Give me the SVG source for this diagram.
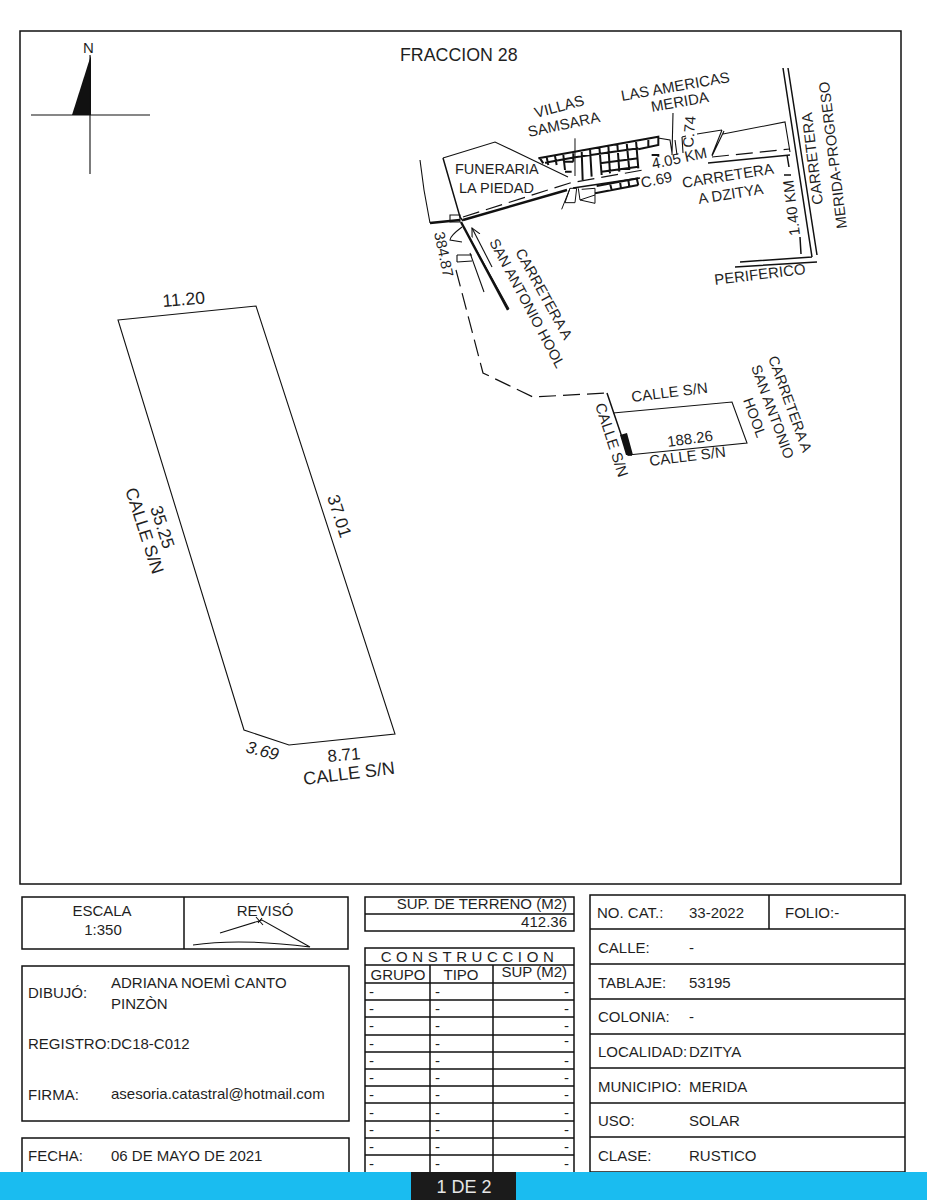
<svg xmlns="http://www.w3.org/2000/svg" width="927" height="1200" viewBox="0 0 927 1200">
<style>
text{font-family:"Liberation Sans",Arial,sans-serif;font-size:15px;fill:#1f1f1f}
.p{font-size:17.500px}
.s{font-size:14.500px}
.l{fill:none;stroke:#111;stroke-width:1.1}
.m{fill:none;stroke:#111;stroke-width:1.5}
.t{fill:none;stroke:#111;stroke-width:2.400}
.d{fill:none;stroke:#111;stroke-width:1.2;stroke-dasharray:17 7}
.c{text-anchor:middle}
.r{text-anchor:end}
</style>
<defs><marker id="open" markerWidth="9" markerHeight="9" refX="8" refY="4" orient="auto"><path d="M0 0L8 4L0 8" fill="none" stroke="#111" stroke-width="1"/></marker></defs>
<rect width="927" height="1200" fill="#fff"/>
<g id="frame"><rect class="m" x="20" y="31" width="881" height="853"/></g>
<text x="400" y="61" style="font-size:17.800px">FRACCION 28</text>
<g id="north">
<path d="M91 55L72 115H91Z" fill="#111"/>
<path class="l" d="M31 115H150M90 55V174"/>
<text x="83" y="53">N</text>
</g>
<g id="parcel">
<path class="l" d="M118 320L256 306L395 734L289 745L244 730Z"/>
<text class="p" transform="translate(163 307) rotate(-5)">11.20</text>
<text class="p" transform="translate(327 497) rotate(72)">37.01</text>
<text class="p" transform="translate(150 508) rotate(72)">35.25</text>
<text class="p" transform="translate(125 490) rotate(72)">CALLE S/N</text>
<text class="p" transform="translate(245 752) rotate(15)" style="font-style:italic;font-size:17px">3.69</text>
<text class="p" transform="translate(328 762) rotate(-5)" style="font-size:17px">8.71</text>
<text class="p" transform="translate(304 785) rotate(-7)" style="font-size:18px">CALLE S/N</text>
</g>
<g id="connectors">
<path class="l" d="M443 158L495 142L568 177M420 160L424 190L430 223M450 215H460V222H450Z"/>
<path class="m" d="M443 158L460 217L463 221"/>
<path class="t" d="M430 223L460 220"/>
<path class="t" d="M463 220L567 190"/>
<path class="d" d="M463 217L570 183L643 170"/>
<path class="m" d="M573 188L640 178"/>
<path class="t" d="M461 222L508 310"/>
<path class="l" d="M470 253L484 292M468 235L509 309M457 255V262M457 255H472M457 262L472 261M462 227Q450 236 450 240L462 242"/>
<path class="l" d="M492 267L472 228" marker-end="url(#open)"/>
<path class="d" d="M456 270L483 373L533 397L607 393"/>
<path class="m" d="M783 68L812 257M788 68L817 255M740 262L812 257M735 267L817 262"/>
<path class="m" d="M787 155L789 167M800 237L801 254M784 175H791"/>
<path class="l" d="M723 134L785 122L790 152M697 134L722 130M722 130L712 155M724 131L712 156M682 137L683 153M682 137L686 136M673 113L672 155M658 138L670 140L672 153M675 140L677 155"/>
<path class="m" d="M708 163L790 155"/>
<path class="d" d="M712 157L790 149"/>
</g>
<g id="grid" transform="translate(520 120) scale(.3333)">
<path fill="none" stroke="#111" stroke-width="6" d="M55 115L415 50V75L355 88M75 128L165 112M165 112L355 85M60 115L70 130M80 112L85 135M105 108L110 135M130 105L135 150M160 100V125M240 130L355 115M245 155L355 140M238 80L245 165M265 75L270 160M292 72L298 155M320 68L328 150M348 62L355 145M385 55V80M210 85L215 170M185 90L188 180M395 105H415V110M230 198L355 175M225 220L355 195M270 190L275 210M300 185L303 205M325 180L328 200M350 175L355 195M135 155H155M135 125H160"/>
<path fill="none" stroke="#111" stroke-width="3" d="M165 55V168M135 248L150 205H170L165 248ZM125 268L150 205M175 205L180 240L225 250M180 240L225 225M185 208L225 205M225 205V250"/>
</g>
<g id="map-labels">
<text x="455" y="174" class="s">FUNERARIA</text>
<text x="459" y="193" class="s">LA PIEDAD</text>
<text transform="translate(536 118) rotate(-15)">VILLAS</text>
<text transform="translate(529 137) rotate(-12)">SAMSARA</text>
<text transform="translate(622 101) rotate(-10)">LAS AMERICAS</text>
<text transform="translate(652 112) rotate(-10)">MERIDA</text>
<text transform="translate(693 148) rotate(-85)">C.74</text>
<text transform="translate(653 169) rotate(-12)">4.05 KM</text>
<text transform="translate(642 188) rotate(-12)">C.69</text>
<text transform="translate(683 188) rotate(-9)">CARRETERA</text>
<text transform="translate(699 204) rotate(-9)">A DZITYA</text>
<text transform="translate(800 235) rotate(-97)">1.40 KM</text>
<text transform="translate(823 204) rotate(-97)">CARRETERA</text>
<text transform="translate(847 228) rotate(-97)" style="font-size:14.800px">MERIDA-PROGRESO</text>
<text transform="translate(715 285) rotate(-7)">PERIFERICO</text>
<text transform="translate(434 233) rotate(78)">384.87</text>
<text class="s" transform="translate(515 252) rotate(61)">CARRETERA A</text>
<text class="s" transform="translate(489 242) rotate(62)">SAN ANTONIO HOOL</text>
</g>
<g id="lot">
<path class="l" d="M613 413L732 402L747 443L628 455"/>
<path class="m" d="M607 393L628 455H632"/>
<path d="M620 435L627 433L633 455H626Z" fill="#111"/>
<text transform="translate(632 402) rotate(-7)">CALLE S/N</text>
<text transform="translate(668 447) rotate(-8)">188.26</text>
<text transform="translate(650 466) rotate(-7)">CALLE S/N</text>
<text transform="translate(595 405) rotate(72)">CALLE S/N</text>
<text class="s" transform="translate(768 358) rotate(70)">CARRETERA A</text>
<text class="s" transform="translate(751 367) rotate(70)">SAN ANTONIO</text>
<text class="s" transform="translate(743 400) rotate(70)">HOOL</text>
</g>
<g id="escala">
<rect class="m" x="22" y="897" width="326" height="52"/>
<path class="m" d="M184 897V949"/>
<text class="c" x="102" y="916">ESCALA</text>
<text class="c" x="103" y="935">1:350</text>
<text class="c" x="265" y="916">REVISÓ</text>
<path class="l" d="M220 933L262 920L310 947M193 945Q240 938 310 947M256 917L263 925M262 918L258 923"/>
</g>
<g id="dibujo">
<rect class="m" x="22" y="966" width="327" height="155"/>
<text x="28" y="998">DIBUJÓ:</text>
<text x="111" y="988">ADRIANA NOEMÌ CANTO</text>
<text x="111" y="1009">PINZÒN</text>
<text x="28" y="1049">REGISTRO:DC18-C012</text>
<text x="28" y="1100">FIRMA:</text>
<text x="111" y="1099">asesoria.catastral@hotmail.com</text>
</g>
<g id="fecha">
<path class="m" d="M22 1172V1138H349V1172"/>
<text x="28" y="1161">FECHA:</text>
<text x="111" y="1161">06 DE MAYO DE 2021</text>
</g>
<g id="superficie">
<rect class="m" x="365" y="897" width="209" height="34"/>
<path class="m" d="M365 914H574"/>
<text class="r" x="567" y="909">SUP. DE TERRENO (M2)</text>
<text class="r" x="567" y="927">412.36</text>
</g>
<g id="construccion">
<path class="m" d="M365 1172V948H574V1172M365 965H574M365 983H574M365 1000H574M365 1017H574M365 1035H574M365 1052H574M365 1069H574M365 1086H574M365 1103H574M365 1121H574M365 1138H574M365 1155H574M430 965V1172M493 965V1172"/>
<text class="c" x="469.500" y="962" letter-spacing="4.600">CONSTRUCCION</text>
<text class="c" x="398" y="980">GRUPO</text>
<text class="c" x="461" y="980">TIPO</text>
<text class="r" x="567" y="977">SUP (M2)</text>
<g id="construccion-rows">
<text x="369" y="997">-</text><text x="435" y="997">-</text><text x="564" y="997">-</text>
<text x="369" y="1014">-</text><text x="435" y="1014">-</text><text x="564" y="1014">-</text>
<text x="369" y="1031">-</text><text x="435" y="1031">-</text><text x="564" y="1031">-</text>
<text x="369" y="1049">-</text><text x="435" y="1049">-</text><text x="564" y="1046">-</text>
<text x="369" y="1066">-</text><text x="435" y="1066">-</text><text x="564" y="1066">-</text>
<text x="369" y="1083">-</text><text x="435" y="1083">-</text><text x="564" y="1083">-</text>
<text x="369" y="1100">-</text><text x="435" y="1100">-</text><text x="564" y="1100">-</text>
<text x="369" y="1118">-</text><text x="435" y="1118">-</text><text x="564" y="1118">-</text>
<text x="369" y="1135">-</text><text x="435" y="1135">-</text><text x="564" y="1135">-</text>
<text x="369" y="1152">-</text><text x="435" y="1152">-</text><text x="564" y="1152">-</text>
<text x="369" y="1169">-</text><text x="435" y="1169">-</text><text x="564" y="1169">-</text>
</g>
</g>
<g id="datos">
<rect class="m" x="590" y="895" width="315" height="277"/>
<path class="m" d="M590 929H905M590 964H905M590 999H905M590 1034H905M590 1068H905M590 1103H905M590 1137H905M769 895V929"/>
<text x="597" y="918">NO. CAT.:</text><text x="689" y="918">33-2022</text><text x="785" y="918">FOLIO:-</text>
<text x="598" y="953">CALLE:</text><text x="689" y="953">-</text>
<text x="598" y="988">TABLAJE:</text><text x="689" y="988">53195</text>
<text x="598" y="1022">COLONIA:</text><text x="689" y="1022">-</text>
<text x="598" y="1057">LOCALIDAD:</text><text x="689" y="1057">DZITYA</text>
<text x="598" y="1092">MUNICIPIO:</text><text x="689" y="1092">MERIDA</text>
<text x="598" y="1126">USO:</text><text x="689" y="1126">SOLAR</text>
<text x="598" y="1161">CLASE:</text><text x="689" y="1161">RUSTICO</text>
</g>
<g id="pie">
<rect x="0" y="1172" width="927" height="28" fill="#1abcf0"/>
<rect x="411" y="1172" width="105" height="28" fill="#1b1b1b"/>
<text class="c" x="464" y="1193" style="font-size:18px;fill:#e6e6e6">1 DE 2</text>
</g>
</svg>
